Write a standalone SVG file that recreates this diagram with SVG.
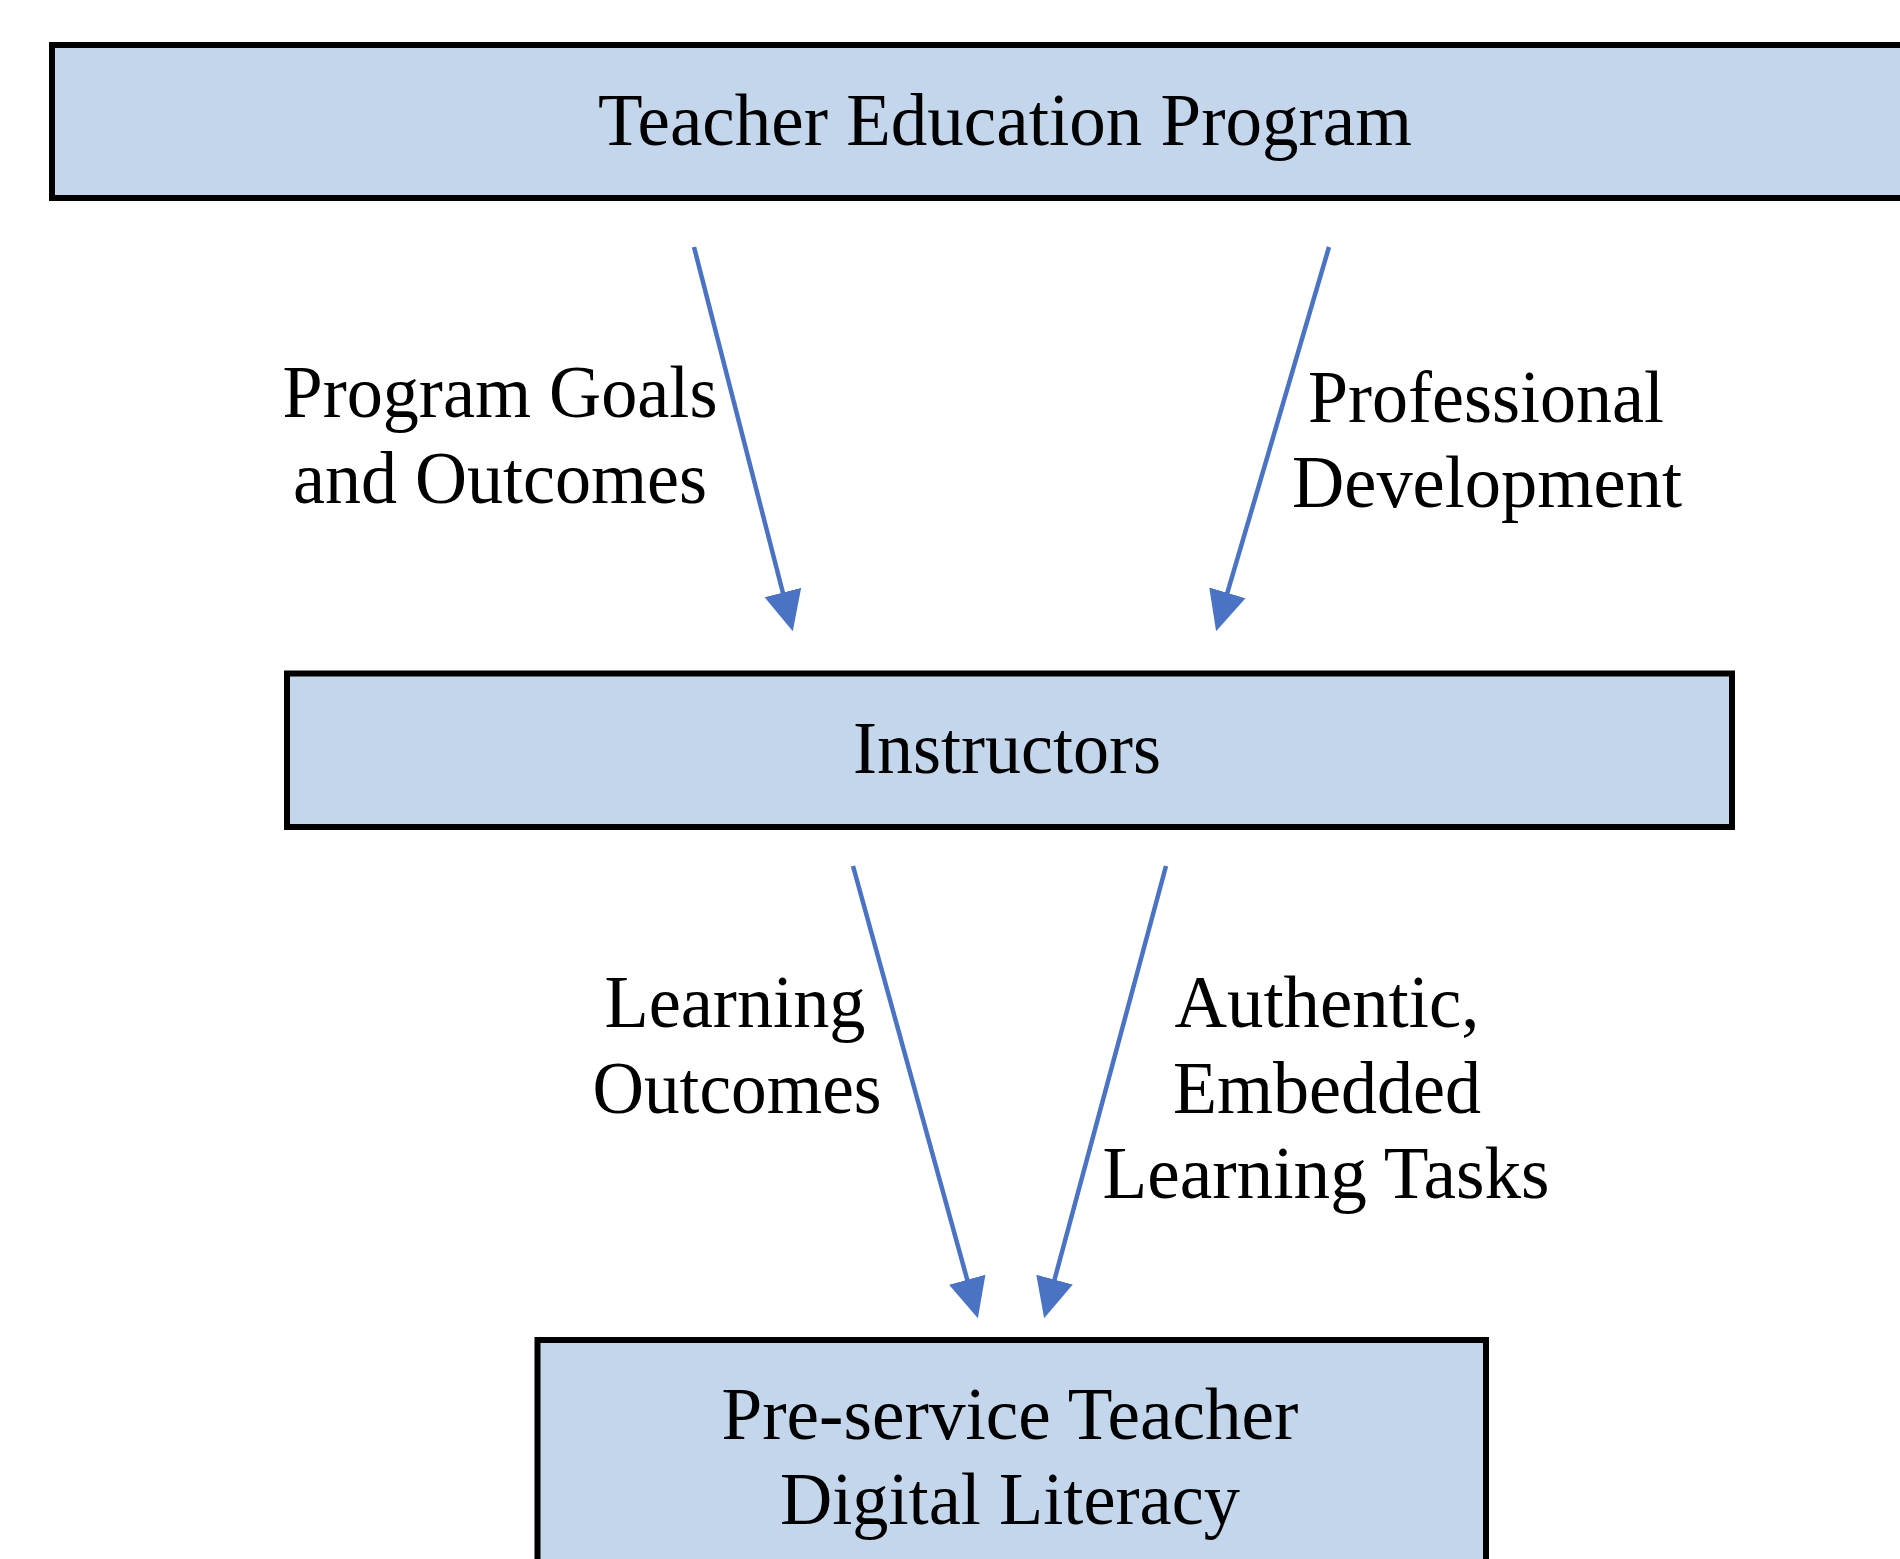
<svg xmlns="http://www.w3.org/2000/svg" width="1900" height="1559" viewBox="0 0 1900 1559">
<style>
.box{fill:#C3D6EB;stroke:#000;stroke-width:6}
.t{font-family:"Liberation Serif","Times New Roman",serif;font-size:74px;fill:#000;text-anchor:middle}
.arr{stroke:#4A73C4;stroke-width:4.5;fill:none;marker-end:url(#ah)}
</style>
<defs>
<marker id="ah" markerUnits="userSpaceOnUse" markerWidth="40" markerHeight="40" viewBox="0 0 36 34" refX="6" refY="17" orient="auto">
<path d="M0,0 L36,17 L0,34 z" fill="#4A73C4"/>
</marker>
</defs>
<rect width="1900" height="1559" fill="#fff"/>
<g id="connectors">
<line class="arr" x1="694" y1="247" x2="784.5" y2="599"/>
<line class="arr" x1="1329" y1="247" x2="1225.5" y2="599.2"/>
<line class="arr" x1="853" y1="866" x2="969" y2="1286.1"/>
<line class="arr" x1="1166" y1="866" x2="1052.8" y2="1286"/>
</g>
<g id="labels">
<text class="t" x="500" y="417" textLength="435" lengthAdjust="spacingAndGlyphs">Program Goals</text>
<text class="t" x="500" y="503" textLength="414" lengthAdjust="spacingAndGlyphs">and Outcomes</text>
<text class="t" x="1486" y="422" textLength="356" lengthAdjust="spacingAndGlyphs">Professional</text>
<text class="t" x="1487" y="507" textLength="390" lengthAdjust="spacingAndGlyphs">Development</text>
<text class="t" x="735" y="1027" textLength="261" lengthAdjust="spacingAndGlyphs">Learning</text>
<text class="t" x="737" y="1113" textLength="289" lengthAdjust="spacingAndGlyphs">Outcomes</text>
<text class="t" x="1327" y="1027" textLength="305" lengthAdjust="spacingAndGlyphs">Authentic,</text>
<text class="t" x="1327" y="1113" textLength="308" lengthAdjust="spacingAndGlyphs">Embedded</text>
<text class="t" x="1326" y="1198" textLength="447" lengthAdjust="spacingAndGlyphs">Learning Tasks</text>
</g>
<g id="node-program">
<rect class="box" x="52" y="45" width="1908" height="153"/>
<text class="t" x="1005" y="145" textLength="814" lengthAdjust="spacingAndGlyphs">Teacher Education Program</text>
</g>
<g id="node-instructors">
<rect class="box" x="287" y="673.5" width="1445" height="153.5"/>
<text class="t" x="1007" y="773" textLength="308" lengthAdjust="spacingAndGlyphs">Instructors</text>
</g>
<g id="node-preservice">
<rect class="box" x="537.5" y="1340" width="948.5" height="300"/>
<text class="t" x="1010" y="1439" textLength="577" lengthAdjust="spacingAndGlyphs">Pre-service Teacher</text>
<text class="t" x="1010" y="1524" textLength="460" lengthAdjust="spacingAndGlyphs">Digital Literacy</text>
</g>
</svg>
